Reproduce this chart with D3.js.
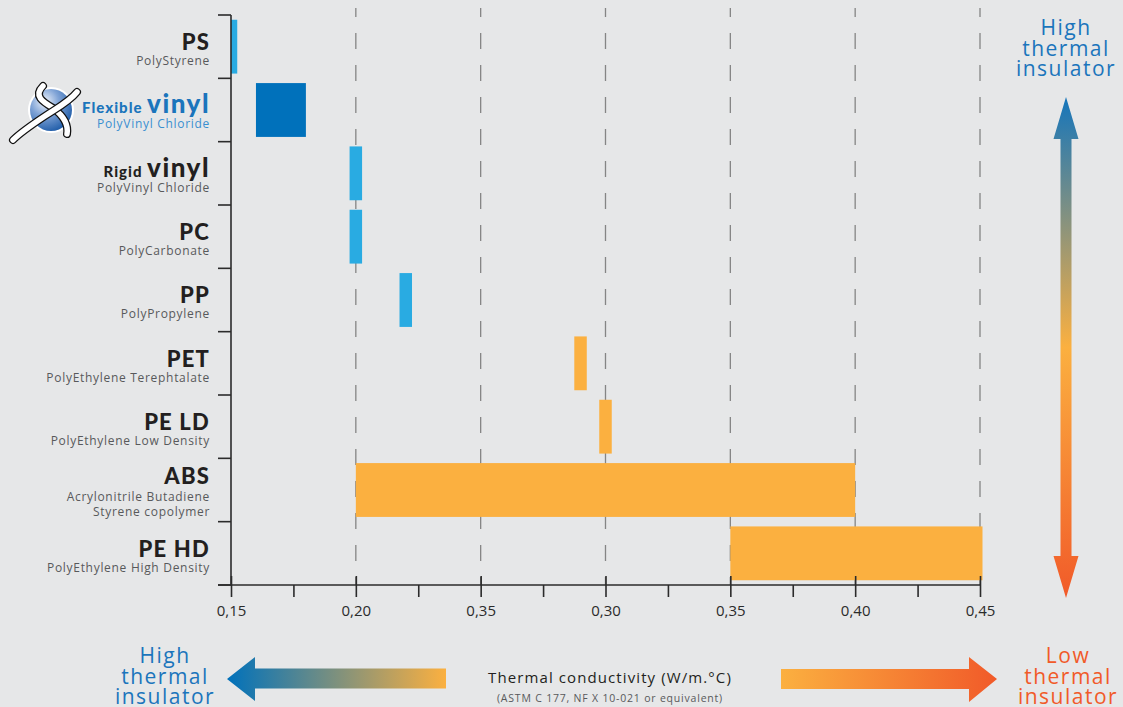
<!DOCTYPE html>
<html>
<head>
<meta charset="utf-8">
<script src="https://cdn.jsdelivr.net/npm/d3@7"></script>
<style>
  html, body { margin: 0; padding: 0; background: #e6e7e8; }
  svg { display: block; }
</style>
</head>
<body>
<script>
const materials = ["PS", "Flexible vinyl", "Rigid vinyl", "PC", "PP", "PET", "PE LD", "ABS", "PE HD"];
const titlePrefix = ["", "Flexible", "Rigid", "", "", "", "", "", ""];
const titleMain = ["PS", "vinyl", "vinyl", "PC", "PP", "PET", "PE LD", "ABS", "PE HD"];
const fullNames = ["PolyStyrene", "PolyVinyl Chloride", "PolyVinyl Chloride", "PolyCarbonate", "PolyPropylene",
  "PolyEthylene Terephtalate", "PolyEthylene Low Density", "Acrylonitrile Butadiene|Styrene copolymer", "PolyEthylene High Density"];
const lowValues = [0.15, 0.16, 0.1975, 0.1975, 0.2175, 0.2875, 0.2975, 0.20, 0.35];
const highValues = [0.1525, 0.18, 0.2025, 0.2025, 0.2225, 0.2925, 0.3025, 0.40, 0.451];
const groups = ["light", "dark", "light", "light", "light", "warm", "warm", "warm", "warm"];
const majorTicks = [0.15, 0.20, 0.25, 0.30, 0.35, 0.40, 0.45];
const tickLabels = ["0,15", "0,20", "0,35", "0,30", "0,35", "0,40", "0,45"];
const minorTicks = [0.175, 0.225, 0.275, 0.325, 0.375, 0.425];

const colors = {light: "#29abe2", dark: "#0071bb", warm: "#fbb040"};
const blue = "#1b75bc";
const red = "#f15a29";

const data = materials.map((m, i) => ({
  name: m, prefix: titlePrefix[i], main: titleMain[i], full: fullNames[i],
  lo: lowValues[i], hi: highValues[i], group: groups[i]
}));

const W = 1123, H = 707;

const svg = d3.select("body").append("svg")
  .attr("width", W)
  .attr("height", H);

const defs = svg.append("defs");

const x = d3.scaleLinear()
  .domain([0.15, 0.45])
  .range([231, 980]);

const y = d3.scaleBand()
  .domain(materials)
  .range([15, 585])
  .paddingInner(0.15)
  .paddingOuter(0.075);

const axisY = 585;

// dashed gridlines
svg.append("g")
  .selectAll("line")
  .data(majorTicks.slice(1))
  .enter()
  .append("line")
  .attr("x1", d => x(d))
  .attr("x2", d => x(d))
  .attr("y1", 8)
  .attr("y2", axisY)
  .attr("stroke", "#858585")
  .attr("stroke-width", 1.3)
  .attr("stroke-dasharray", "16,16")
  .attr("stroke-dashoffset", 7);

// bars
svg.append("g")
  .selectAll("rect")
  .data(data)
  .enter()
  .append("rect")
  .attr("x", d => x(d.lo))
  .attr("y", d => y(d.name))
  .attr("width", d => x(d.hi) - x(d.lo))
  .attr("height", y.bandwidth())
  .attr("fill", d => colors[d.group]);

// y axis with row separators
const step = y.step();
const rowEdges = d3.range(materials.length + 1).map(i => 15 + i * step);

svg.append("line")
  .attr("x1", x(0.15))
  .attr("x2", x(0.15))
  .attr("y1", 15)
  .attr("y2", axisY)
  .attr("stroke", "#2b2b2b")
  .attr("stroke-width", 1.6);

svg.append("g")
  .selectAll("line")
  .data(rowEdges)
  .enter()
  .append("line")
  .attr("x1", x(0.15) - 13)
  .attr("x2", x(0.15))
  .attr("y1", d => d)
  .attr("y2", d => d)
  .attr("stroke", "#2b2b2b")
  .attr("stroke-width", 1.6);

// x axis
const xAxis = d3.axisBottom(x)
  .tickValues(majorTicks)
  .tickSize(12)
  .tickPadding(8)
  .tickFormat((d, i) => tickLabels[i]);

const gx = svg.append("g")
  .attr("transform", "translate(0," + axisY + ")")
  .call(xAxis);

gx.select(".domain").remove();
gx.selectAll(".tick line")
  .attr("y1", -9)
  .attr("stroke", "#2b2b2b")
  .attr("stroke-width", 1.6);
gx.selectAll(".tick text")
  .style("font-family", "'Open Sans', sans-serif")
  .style("font-size", "15px")
  .style("fill", "#2b2b2b");

const gMinor = svg.append("g")
  .attr("transform", "translate(0," + axisY + ")")
  .call(d3.axisBottom(x).tickValues(minorTicks).tickSize(12).tickFormat(""));
gMinor.select(".domain").remove();
gMinor.selectAll(".tick line")
  .attr("stroke", "#2b2b2b")
  .attr("stroke-width", 1.6);

svg.append("line")
  .attr("x1", x(0.15) - 13)
  .attr("x2", x(0.45))
  .attr("y1", axisY)
  .attr("y2", axisY)
  .attr("stroke", "#2b2b2b")
  .attr("stroke-width", 1.6);

// row labels
const labelX = 210;
const labels = svg.append("g")
  .selectAll("g")
  .data(data)
  .enter()
  .append("g")
  .attr("transform", d => "translate(" + labelX + "," + (y(d.name) - y.step() * 0.075) + ")");

const title = labels.append("text")
  .attr("text-anchor", "end")
  .attr("y", d => d.full.includes("|") ? 26 : 35)
  .style("font-family", "Lato, sans-serif")
  .style("font-weight", 900)
  .style("fill", d => d.group === "dark" ? blue : "#231f20");

title.append("tspan")
  .text(d => d.prefix ? d.prefix + " " : "")
  .style("font-size", "15px")
  .style("letter-spacing", "1px");

title.append("tspan")
  .text(d => d.main)
  .style("font-size", d => d.prefix ? "26px" : "22px")
  .style("letter-spacing", d => d.prefix ? "1.5px" : "1.2px");

labels.each(function(d) {
  const lines = d.full.split("|");
  const g = d3.select(this);
  lines.forEach((line, j) => {
    g.append("text")
      .attr("text-anchor", "end")
      .attr("y", (lines.length > 1 ? 43 : 50) + j * 15)
      .text(line)
      .style("font-family", "'Open Sans', sans-serif")
      .style("font-size", "12px")
      .style("letter-spacing", "0.7px")
      .style("fill", d.group === "dark" ? "#3a8fd0" : "#58595b");
  });
});

// logo next to flexible vinyl
const logo = svg.append("g")
  .attr("transform", "translate(51,110)");

const globeGrad = defs.append("radialGradient")
  .attr("id", "globe")
  .attr("cx", "35%")
  .attr("cy", "30%")
  .attr("r", "75%");
globeGrad.append("stop").attr("offset", "0%").attr("stop-color", "#eef3fb");
globeGrad.append("stop").attr("offset", "45%").attr("stop-color", "#7fa3d6");
globeGrad.append("stop").attr("offset", "100%").attr("stop-color", "#1f5ca8");

logo.append("circle")
  .attr("r", 23)
  .attr("fill", "#ffffff");
logo.append("circle")
  .attr("r", 21)
  .attr("fill", "url(#globe)");

const ribbons = [
  "M-8,-24 C-18,-14 -8,-8 2,-2 C10,4 18,12 16,24",
  "M26,-18 C18,-8 6,-2 -6,6 C-18,14 -30,22 -38,30"
];
ribbons.forEach(p => {
  logo.append("path").attr("d", p).attr("fill", "none")
    .attr("stroke", "#111").attr("stroke-width", 8).attr("stroke-linecap", "round");
  logo.append("path").attr("d", p).attr("fill", "none")
    .attr("stroke", "#fff").attr("stroke-width", 5.5).attr("stroke-linecap", "round");
});

// vertical gradient arrow (right)
const vGrad = defs.append("linearGradient")
  .attr("id", "vgrad")
  .attr("gradientUnits", "userSpaceOnUse")
  .attr("x1", 0).attr("y1", 97)
  .attr("x2", 0).attr("y2", 598);
vGrad.append("stop").attr("offset", "0%").attr("stop-color", "#1575bb");
vGrad.append("stop").attr("offset", "50%").attr("stop-color", "#fbb040");
vGrad.append("stop").attr("offset", "100%").attr("stop-color", red);

const ax = 1066;
svg.append("path")
  .attr("d", [
    "M", ax, 97,
    "L", ax + 12.5, 139, "L", ax + 5.5, 139, "L", ax + 5.5, 556, "L", ax + 12.5, 556,
    "L", ax, 598,
    "L", ax - 12.5, 556, "L", ax - 5.5, 556, "L", ax - 5.5, 139, "L", ax - 12.5, 139, "Z"
  ].join(" "))
  .attr("fill", "url(#vgrad)");

// horizontal arrows (bottom)
const lGrad = defs.append("linearGradient")
  .attr("id", "lgrad")
  .attr("gradientUnits", "userSpaceOnUse")
  .attr("x1", 227).attr("y1", 0)
  .attr("x2", 446).attr("y2", 0);
lGrad.append("stop").attr("offset", "0%").attr("stop-color", "#0071bb");
lGrad.append("stop").attr("offset", "100%").attr("stop-color", "#fbb040");

svg.append("path")
  .attr("d", "M227,679 L255,657 L255,668.5 L446,668.5 L446,688.5 L255,688.5 L255,701 Z")
  .attr("fill", "url(#lgrad)");

const rGrad = defs.append("linearGradient")
  .attr("id", "rgrad")
  .attr("gradientUnits", "userSpaceOnUse")
  .attr("x1", 781).attr("y1", 0)
  .attr("x2", 997).attr("y2", 0);
rGrad.append("stop").attr("offset", "0%").attr("stop-color", "#fbb040");
rGrad.append("stop").attr("offset", "100%").attr("stop-color", red);

svg.append("path")
  .attr("d", "M997,679 L969,657 L969,669 L781,669 L781,689 L969,689 L969,702 Z")
  .attr("fill", "url(#rgrad)");

// side captions
function caption(cx, baseY, lines, color) {
  const t = svg.append("text")
    .attr("text-anchor", "middle")
    .style("font-family", "'Open Sans', sans-serif")
    .style("font-size", "21px")
    .style("letter-spacing", "1.5px")
    .style("fill", color);
  lines.forEach((line, i) => {
    t.append("tspan")
      .attr("x", cx)
      .attr("y", baseY + i * 20.5)
      .text(line);
  });
}

caption(1066, 35, ["High", "thermal", "insulator"], blue);
caption(165, 663, ["High", "thermal", "insulator"], blue);
caption(1068, 663, ["Low", "thermal", "insulator"], red);

// axis title
svg.append("text")
  .attr("x", 610)
  .attr("y", 683)
  .attr("text-anchor", "middle")
  .text("Thermal conductivity (W/m.°C)")
  .style("font-family", "'Open Sans', sans-serif")
  .style("font-size", "15px")
  .style("letter-spacing", "1.1px")
  .style("fill", "#231f20");

svg.append("text")
  .attr("x", 610)
  .attr("y", 702)
  .attr("text-anchor", "middle")
  .text("(ASTM C 177, NF X 10-021 or equivalent)")
  .style("font-family", "'Open Sans', sans-serif")
  .style("font-size", "10.5px")
  .style("letter-spacing", "0.8px")
  .style("fill", "#58595b");
</script>
</body>
</html>
